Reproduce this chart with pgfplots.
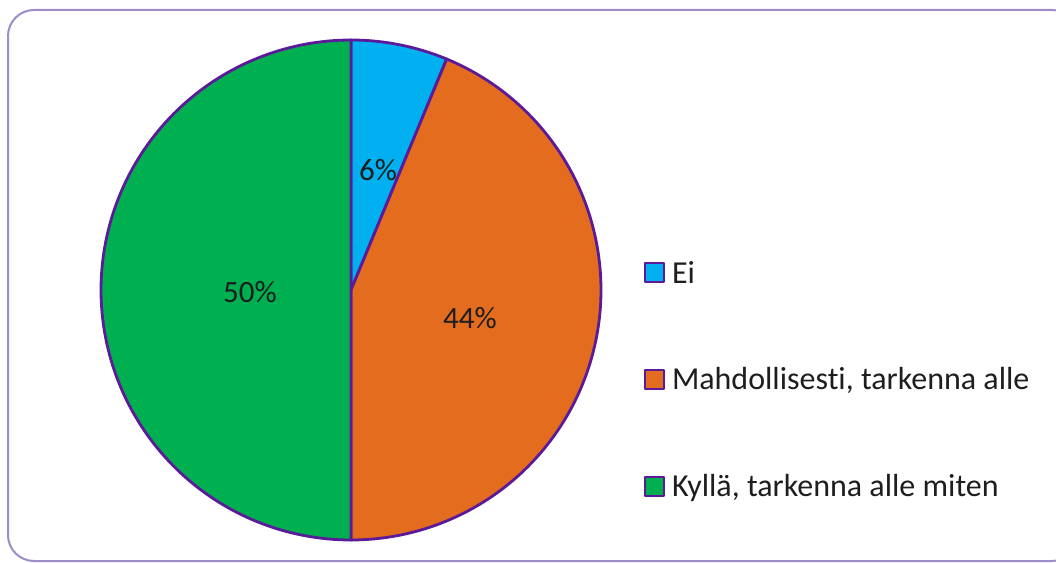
\documentclass[border=0pt]{standalone}
\usepackage{pgfplots}
\pgfplotsset{compat=1.18}
\usepackage{fontspec}
\setmainfont{Carlito}[Ligatures=NoCommon]
\definecolor{cEi}{HTML}{00B0F0}
\definecolor{cMa}{HTML}{E46C1E}
\definecolor{cKy}{HTML}{00B050}
\definecolor{edge}{HTML}{5A1A9A}
\definecolor{framec}{HTML}{9C8CC8}
\definecolor{txt}{HTML}{1E1E1E}

% data: shares in percent (labels rounded)
\def\vEi{6.25}
\def\vMa{43.75}
\def\vKy{50}
\pgfmathsetmacro\aA{90}
\pgfmathsetmacro\aB{90-3.6*\vEi}
\pgfmathsetmacro\aC{\aB-3.6*\vMa}
\pgfmathsetmacro\aD{\aC-3.6*\vKy}

\begin{document}
\begin{tikzpicture}[x=1pt,y=1pt]
\clip (0pt,0pt) rectangle (1056pt,562pt);
\draw[framec, line width=2pt, rounded corners=26pt] (8pt,1pt) rectangle (1078pt,552pt);
\begin{axis}[
  at={(101pt,22pt)}, anchor=south west, scale only axis,
  width=500pt, height=500pt,
  xmin=-1, xmax=1, ymin=-1, ymax=1, hide axis,
  clip=false,
  legend style={draw=none, fill=none, at={(1.08,0.321)}, anchor=west,
    font=\fontsize{32}{37}\selectfont, text=txt, row sep=79pt},
  legend cell align=left,
  legend image code/.code={\draw[#1, line width=1.8pt] (0pt,-9.5pt) rectangle (19pt,9.5pt);},
  /tikz/every odd column/.append style={column sep=5pt},
]
\addplot[fill=cEi, draw=edge, line width=2.8pt, line join=round, domain=\aB:\aA, samples=40, variable=\t]
  ({cos(\t)},{sin(\t)}) -- (axis cs:0,0) -- cycle;
\addlegendentry{Ei}
\addplot[fill=cMa, draw=edge, line width=2.8pt, line join=round, domain=\aC:\aB, samples=120, variable=\t]
  ({cos(\t)},{sin(\t)}) -- (axis cs:0,0) -- cycle;
\addlegendentry{Mahdollisesti, tarkenna alle}
\addplot[fill=cKy, draw=edge, line width=2.8pt, line join=round, domain=\aD:\aC, samples=140, variable=\t]
  ({cos(\t)},{sin(\t)}) -- (axis cs:0,0) -- cycle;
\addlegendentry{Kyllä, tarkenna alle miten}
\node[text=txt, font=\fontsize{31}{36}\selectfont] at (axis cs:0.108,0.48) {6\%};
\node[text=txt, font=\fontsize{31}{36}\selectfont] at (axis cs:0.476,-0.112) {44\%};
\node[text=txt, font=\fontsize{31}{36}\selectfont] at (axis cs:-0.404,-0.008) {50\%};
\end{axis}
\end{tikzpicture}
\end{document}
